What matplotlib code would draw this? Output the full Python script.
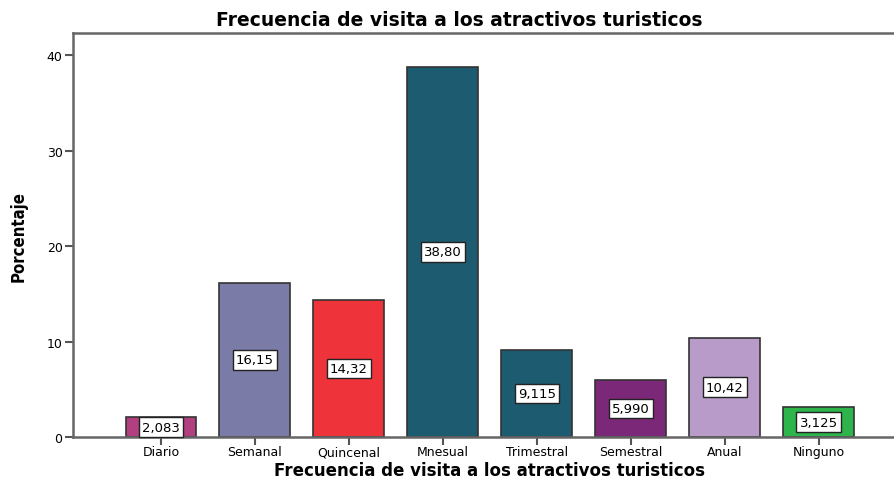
import numpy as np
import matplotlib
matplotlib.use('Agg')
import matplotlib.pyplot as plt

plt.rcParams['font.family'] = ['DejaVu Sans']

categorias = ['Diario', 'Semanal', 'Quincenal', 'Mnesual', 'Trimestral', 'Semestral', 'Anual', 'Ninguno']
porcentaje = [2.083, 16.15, 14.32, 38.80, 9.115, 5.990, 10.42, 3.125]
colores = ['#B23F7F', '#7B7BA8', '#EF333B', '#1C5B70', '#1C5B70', '#7C2879', '#B89BC9', '#2DB44B']

fig = plt.figure(figsize=(8.94, 4.81), dpi=100)
ax = fig.add_axes([0.0817, 0.0894, 0.9183, 0.8396])

x = np.arange(len(categorias))
bars = ax.bar(x, porcentaje, width=0.755, color=colores, edgecolor='#333333', linewidth=1.2, zorder=2)

# etiquetas de valor en el centro de cada barra
for xi, v in zip(x, porcentaje):
    txt = f"{v:#.4g}".replace('.', ',')
    ax.text(xi, v / 2, txt, ha='center', va='center', fontsize=9.5, zorder=3,
            bbox=dict(boxstyle='square,pad=0.25', facecolor='white', edgecolor='#222222', linewidth=1))

ax.set_xlim(-0.936, 7.8)
ax.set_ylim(0, 42.3)
ax.set_xticks(x)
ax.set_xticklabels(categorias, fontsize=9)
ax.set_yticks([0, 10, 20, 30, 40])
ax.tick_params(axis='both', direction='out', length=5.5, width=1.5, color='#555555', labelsize=9, pad=2)
ax.tick_params(axis='x', pad=0.5)

for s in ['left', 'top', 'bottom']:
    ax.spines[s].set_color('#666666')
    ax.spines[s].set_linewidth(1.8)
ax.spines['right'].set_visible(False)

fig.text(459 / 894, 1 - 20 / 481, 'Frecuencia de visita a los atractivos turisticos',
         fontsize=13.5, fontweight='bold', ha='center', va='center')
fig.text(490 / 894, 4.5 / 481, 'Frecuencia de visita a los atractivos turisticos',
         fontsize=12, fontweight='bold', ha='center', va='baseline')
ax.set_ylabel('Porcentaje', fontsize=12, fontweight='bold', fontstretch='condensed', labelpad=14)

fig.savefig('out.png', dpi=100)
